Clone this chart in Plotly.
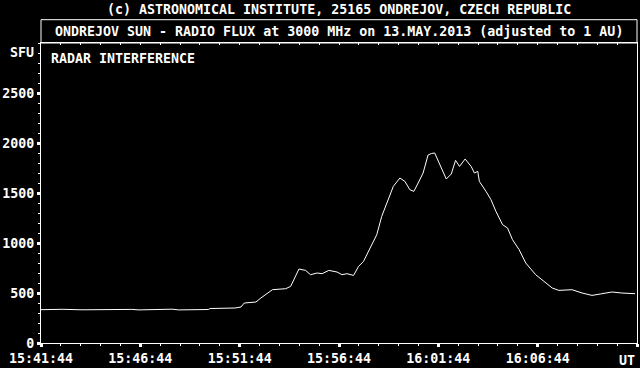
import plotly.graph_objects as go

DATE = "2013-05-13"
TIMES = [
    "15:41:44", "15:42:48", "15:43:48", "15:44:48", "15:45:30", "15:46:00", "15:46:18",
    "15:46:40", "15:47:48", "15:48:20", "15:48:40", "15:49:18", "15:50:09", "15:50:15",
    "15:51:30", "15:51:48", "15:51:58", "15:52:33", "15:52:48", "15:53:23", "15:54:03",
    "15:54:18", "15:54:33", "15:54:43", "15:55:03", "15:55:18", "15:55:38", "15:55:53",
    "15:56:13", "15:56:38", "15:56:53", "15:57:08", "15:57:28", "15:57:43", "15:57:58",
    "15:58:18", "15:58:38", "15:58:53", "15:59:08", "15:59:28", "15:59:48", "16:00:03",
    "16:00:18", "16:00:30", "16:00:43", "16:00:58", "16:01:13", "16:01:23", "16:01:33",
    "16:01:48", "16:02:08", "16:02:23", "16:02:36", "16:02:48", "16:03:05", "16:03:23",
    "16:03:33", "16:03:43", "16:03:48", "16:04:08", "16:04:23", "16:04:38", "16:04:58",
    "16:05:13", "16:05:28", "16:05:48", "16:06:08", "16:06:38", "16:07:08", "16:07:28",
    "16:07:48", "16:08:28", "16:08:58", "16:09:28", "16:09:53", "16:10:28", "16:10:58",
    "16:11:38",
]
SFU = [
    333, 337, 332, 333, 338, 331, 336,
    331, 333, 338, 331, 332, 335, 345,
    350, 360, 400, 410, 450, 533, 543,
    566, 666, 740, 726, 683, 700, 693,
    726, 710, 683, 693, 676, 766, 816,
    950, 1083, 1266, 1400, 1566, 1650, 1616,
    1533, 1516, 1600, 1700, 1880, 1895, 1900,
    1790, 1640, 1690, 1826, 1766, 1840, 1766,
    1700, 1716, 1616, 1516, 1433, 1316, 1183,
    1150, 1033, 933, 800, 683, 606, 550,
    526, 533, 500, 476, 490, 510, 500,
    493,
]
TICK_TIMES = ["15:41:44", "15:46:44", "15:51:44", "15:56:44", "16:01:44", "16:06:44", "16:11:44"]
TICK_LABELS = ["15:41:44", "15:46:44", "15:51:44", "15:56:44", "16:01:44", "16:06:44", ""]
Y_TICKS = [0, 500, 1000, 1500, 2000, 2500]
Y_RANGE = [0, 3000]

TITLE = "(c) ASTRONOMICAL INSTITUTE, 25165 ONDREJOV, CZECH REPUBLIC"
SUBTITLE = "ONDREJOV SUN - RADIO FLUX at 3000 MHz on 13.MAY.2013 (adjusted to 1 AU)"
NOTE = "RADAR INTERFERENCE"

x = [f"{DATE} {t}" for t in TIMES]
tickx = [f"{DATE} {t}" for t in TICK_TIMES]
start, end = tickx[0], tickx[-1]

FONT = "DejaVu Sans Mono"
FS = 13.3
TF = dict(family=FONT, size=FS, color="white", weight="bold")

fig = go.Figure()
fig.add_trace(go.Scatter(x=x, y=SFU, mode="lines",
                         line=dict(color="white", width=1), hoverinfo="skip"))
fig.add_trace(go.Scatter(x=[start], y=[0], mode="markers", xaxis="x2",
                         marker=dict(opacity=0), hoverinfo="skip", showlegend=False))

fig.update_layout(
    width=640, height=368,
    margin=dict(l=38, r=2, t=43, b=25),
    paper_bgcolor="black", plot_bgcolor="black",
    font=TF,
    showlegend=False,
    xaxis=dict(
        type="date", range=[start, end], tickvals=tickx, ticktext=TICK_LABELS,
        ticks="outside", ticklen=3, tickwidth=3, tickcolor="white",
        showline=True, linecolor="white", linewidth=1, mirror=True,
        showgrid=False, zeroline=False,
        tickfont=TF,
        minor=dict(tick0=start, dtick=60000, ticks="outside", ticklen=2,
                   tickwidth=1, tickcolor="white", showgrid=False),
    ),
    xaxis2=dict(
        type="date", range=[start, end], overlaying="x", side="top",
        tick0=start, dtick=60000, ticks="inside", ticklen=2, tickwidth=1,
        tickcolor="white", showticklabels=False, showgrid=False,
        showline=False, zeroline=False,
    ),
    yaxis=dict(
        range=Y_RANGE, tickvals=Y_TICKS,
        ticks="outside", ticklen=3, tickwidth=3, tickcolor="white",
        showline=True, linecolor="white", linewidth=1, mirror=True,
        showgrid=False, zeroline=False,
        tickfont=TF,
        minor=dict(dtick=100, ticks="outside", ticklen=2, tickwidth=1,
                   tickcolor="white", showgrid=False),
    ),
    shapes=[dict(type="rect", xref="paper", yref="paper",
                 x0=0, x1=1, y0=1, y1=1 + 23.3 / 300,
                 line=dict(color="white", width=1))],
    annotations=[
        dict(text=TITLE, xref="paper", yref="paper", x=0.5, y=1 + 34 / 300,
             xanchor="center", yanchor="middle", showarrow=False, font=TF),
        dict(text=SUBTITLE, xref="paper", yref="paper", x=0.5, y=1 + 11.5 / 300,
             xanchor="center", yanchor="middle", showarrow=False, font=TF),
        dict(text=NOTE, xref="paper", yref="paper", x=8 / 600, y=(343 - 58) / 300,
             xanchor="left", yanchor="middle", showarrow=False, font=TF),
        dict(text="SFU", xref="paper", yref="paper", x=-5.5 / 600, y=(343 - 52.5) / 300,
             xanchor="right", yanchor="middle", showarrow=False, font=TF),
        dict(text="UT", xref="paper", yref="paper", x=1, y=-17 / 300,
             xanchor="right", yanchor="middle", showarrow=False, font=TF),
    ],
)

fig.write_html("out.html")
